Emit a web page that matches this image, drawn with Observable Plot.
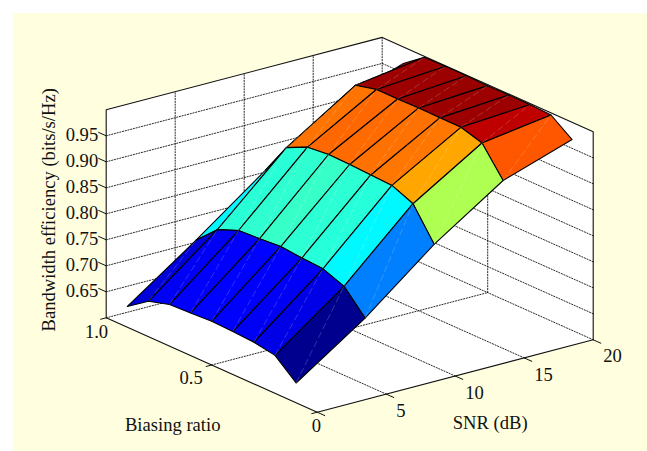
<!DOCTYPE html>
<html><head><meta charset="utf-8">
<script src="https://cdn.jsdelivr.net/npm/d3@7"></script>
<script src="https://cdn.jsdelivr.net/npm/@observablehq/plot@0.6"></script>
<style>
html,body{margin:0;padding:0;background:#fff;overflow:hidden}
#chart{position:absolute;left:13px;top:13px}
#chart svg{display:block;background:#ffffe0}
</style></head><body><div id="chart"></div>
<script>
// ---- data ----
const snrValues = [0, 5, 10, 15, 20];
const biasValues = [0.1, 0.2, 0.3, 0.4, 0.5, 0.6, 0.7, 0.8, 0.9];
const effSnr0  = [0.638, 0.673, 0.680, 0.6825, 0.684, 0.682, 0.680, 0.668, 0.640];
const effSnr5  = [0.728, 0.771, 0.7865, 0.789, 0.793, 0.790, 0.7875, 0.771, 0.733];
const effSnr10 = [0.835, 0.895, 0.912, 0.914, 0.916, 0.917, 0.913, 0.894, 0.832];
const effSnr15 = [0.923, 0.977, 0.989, 0.989, 0.990, 0.989, 0.989, 0.979, 0.922];
const effSnr20 = [0.967, 0.996, 0.998, 0.998, 0.998, 0.999, 0.999, 0.998, 0.968];
const effRows = [effSnr0, effSnr5, effSnr10, effSnr15, effSnr20];

const snrTicks = [5, 10, 15, 20];
const biasTicks = [0, 0.5, 1];
const biasTickLabels = ["0", "0.5", "1.0"];
const effTicks = [0.65, 0.70, 0.75, 0.80, 0.85, 0.90, 0.95];
const snrDomain = [0, 20], biasDomain = [0, 1], effDomain = [0.6, 1];
const yTitle = "Bandwidth efficiency (bits/s/Hz)";
const snrTitle = "SNR (dB)", biasTitle = "Biasing ratio";

// ---- orthographic view of the MATLAB axes box (page pixels) ----
const view = {ox: 316.7, oy: 411.7, sx: 13.8, sy: -3.62, bx: -211, by: -94.4, ez: -520};
const px = (s, b) => view.ox + view.sx * s + view.bx * b;
const py = (s, b, e) => view.oy + view.sy * s + view.by * b + view.ez * (e - effDomain[0]);
const pt = (s, b, e) => ({x: px(s, b), y: py(s, b, e)});

const [s0, s1] = snrDomain, [b0, b1] = biasDomain, [e0, e1] = effDomain;
let nextId = 0;
function path(points, extra = {}) {
  const id = nextId++;
  return points.map(p => ({...pt(...p), id, ...extra}));
}

// walls and floor
const walls = [
  ...path([[s0,b1,e0],[s1,b1,e0],[s1,b1,e1],[s0,b1,e1],[s0,b1,e0]]),
  ...path([[s1,b1,e0],[s1,b0,e0],[s1,b0,e1],[s1,b1,e1],[s1,b1,e0]]),
  ...path([[s0,b0,e0],[s1,b0,e0],[s1,b1,e0],[s0,b1,e0],[s0,b0,e0]])
];

// dotted grid
const grid = [];
for (const e of effTicks) grid.push(...path([[s0,b1,e],[s1,b1,e],[s1,b0,e]]));
for (const s of snrTicks) if (s < s1) grid.push(...path([[s,b0,e0],[s,b1,e0],[s,b1,e1]]));
grid.push(...path([[s0,b1,e0],[s1,b1,e0],[s1,b0,e0]]));
grid.push(...path([[s0,0.5,e0],[s1,0.5,e0],[s1,0.5,e1]]));
grid.push(...path([[s1,b1,e0],[s1,b1,e1]]));

// solid box edges and ticks
const box = [
  ...path([[s0,b1,e0],[s0,b1,e1],[s1,b1,e1],[s1,b0,e1],[s1,b0,e0],[s0,b0,e0],[s0,b1,e0]])
];
const tickLenB = 0.036, tickLenS = 0.4;
const ticks = [];
for (const e of [...effTicks]) ticks.push(...path([[s0,b1,e],[s0,b1+tickLenB,e]]));
for (const s of [s0, ...snrTicks]) ticks.push(...path([[s,b0,e0],[s,b0-tickLenB,e0]]));
for (const b of biasTicks) ticks.push(...path([[s0,b,e0],[s0-tickLenS,b,e0]]));

// surface faces, painted back to front; each face coloured by its lower corner
const faces = [], seams = [];
for (let i = snrValues.length - 2; i >= 0; i--) {
  for (let j = biasValues.length - 2; j >= 0; j--) {
    const a = snrValues[i], c = snrValues[i + 1], b = biasValues[j], d = biasValues[j + 1];
    const r0 = effRows[i], r1 = effRows[i + 1];
    faces.push(...path([[a,b,r0[j]],[c,b,r1[j]],[c,d,r1[j+1]],[a,d,r0[j+1]],[a,b,r0[j]]], {level: r0[j]}));
  }
}
const faceOrder = d3.group(faces, d => d.id);
for (const rows of faceOrder.values()) seams.push({x1: rows[0].x, y1: rows[0].y, x2: rows[2].x, y2: rows[2].y, id: rows[0].id});

// jet colormap over the surface's own range
const [eMin, eMax] = d3.extent(effRows.flat());
const jetPos = [0, 0.125, 0.375, 0.625, 0.875, 1];
const jetCol = ["rgb(0,0,143)", "rgb(0,0,255)", "rgb(0,255,255)", "rgb(255,255,0)", "rgb(255,0,0)", "rgb(128,0,0)"];

// text
const effLabels = effTicks.map(e => ({...pt(s0, b1, e), t: e.toFixed(2)}));
const snrLabels = snrTicks.map(s => ({...pt(s, b0, e0), t: String(s)}));
const biasOffset = [[-0.7, 14.2], [-20.5, 13.5], [-9.7, 14.7]];
const biasLabels = biasTicks.map((b, i) => {
  const p = pt(s0, b, e0);
  return {x: p.x + biasOffset[i][0], y: p.y + biasOffset[i][1], t: biasTickLabels[i]};
});
const biasMid = pt(s0, 0.5, e0), snrMid = pt(10, b0, e0), effMid = pt(s0, b1, 0.8);

const font = {fontFamily: "Liberation Serif", fontSize: 18.6, fill: "#111", lineAnchor: "middle"};
const common = {x: "x", y: "y"};

const chart = Plot.plot({
  width: 634, height: 438, margin: 0,
  style: {background: "#ffffe0"},
  x: {domain: [13, 647], range: [0, 634], axis: null},
  y: {domain: [13, 451], range: [0, 438], axis: null},
  color: {type: "linear", domain: jetPos.map(t => eMin + t * (eMax - eMin)), range: jetCol, interpolate: "rgb"},
  marks: [
    Plot.line(walls, {...common, z: "id", fill: "white", stroke: "none"}),
    Plot.line(grid, {...common, z: "id", stroke: "#111", strokeWidth: 0.9, strokeDasharray: "1.2 1.6"}),
    Plot.line(box, {...common, z: "id", stroke: "#111", strokeWidth: 1.1}),
    Plot.line(ticks, {...common, z: "id", stroke: "#111", strokeWidth: 1}),
    Plot.line(faces, {...common, z: "id", fill: "level", stroke: "#000", strokeWidth: 1.1}),
    Plot.link(seams, {x1: "x1", y1: "y1", x2: "x2", y2: "y2", stroke: "white", strokeOpacity: 0.28, strokeWidth: 0.7, strokeDasharray: "7 3"}),
    Plot.text(effLabels, {...common, text: "t", ...font, textAnchor: "end", dx: -8, dy: -1}),
    Plot.text(snrLabels, {...common, text: "t", ...font, textAnchor: "start", dx: 10, dy: 16.7}),
    Plot.text(biasLabels, {...common, text: "t", ...font, textAnchor: "middle"}),
    Plot.text([{...snrMid, t: snrTitle}], {...common, text: "t", ...font, textAnchor: "middle", dx: 35, dy: 47}),
    Plot.text([{...biasMid, t: biasTitle}], {...common, text: "t", ...font, textAnchor: "middle", dx: -39, dy: 60}),
    Plot.text([{...effMid, t: yTitle}], {...common, text: "t", ...font, textAnchor: "middle", rotate: -90, dx: -57, dy: -4})
  ]
});
document.getElementById("chart").appendChild(chart);
</script></body></html>
